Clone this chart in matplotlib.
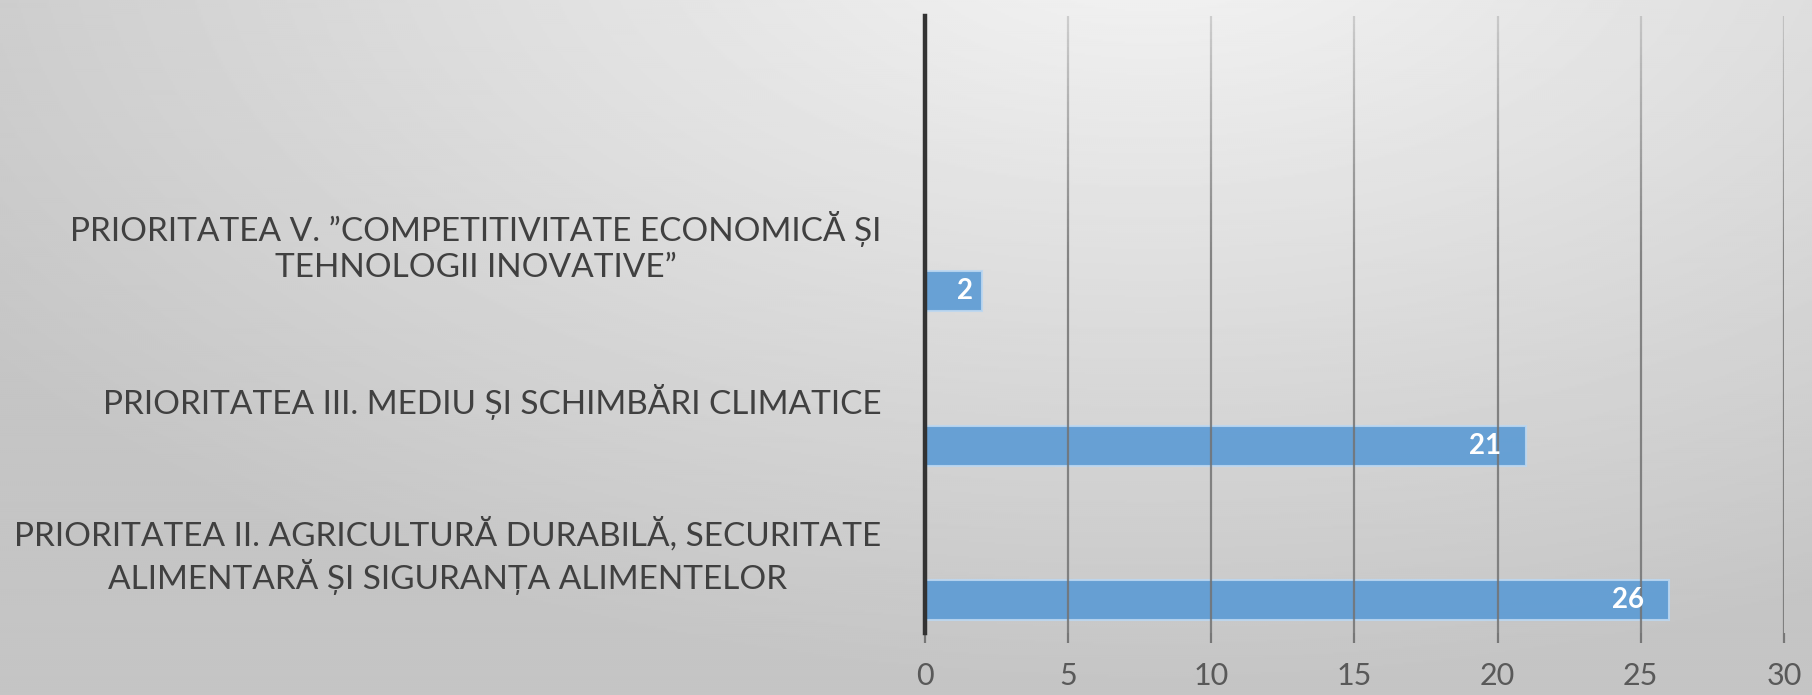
import numpy as np
import matplotlib
matplotlib.use("Agg")
import matplotlib.pyplot as plt
from matplotlib.collections import LineCollection

# data
categories = [
    "PRIORITATEA II. AGRICULTURĂ DURABILĂ, SECURITATE\nALIMENTARĂ ȘI SIGURANȚA ALIMENTELOR",
    "PRIORITATEA III. MEDIU ȘI SCHIMBĂRI CLIMATICE",
    "PRIORITATEA V. ”COMPETITIVITATE ECONOMICĂ ȘI\nTEHNOLOGII INOVATIVE”",
]
values = [26, 21, 2]
xticks = [0, 5, 10, 15, 20, 25, 30]

W, H = 1812, 695
fig = plt.figure(figsize=(W / 100, H / 100), dpi=100)

# radial grey background, lighter near the top middle
bg = fig.add_axes([0, 0, 1, 1], zorder=-10)
yy, xx = np.mgrid[0:H:2, 0:W:2]
d = np.sqrt(((xx - 1150) / W) ** 2 + ((yy + 80) / (H * 1.4)) ** 2)
shade = np.clip(0.96 - 0.24 * d, 0.77, 0.96)
bg.imshow(shade, cmap="gray", vmin=0, vmax=1, extent=[0, 1, 0, 1],
          aspect="auto", interpolation="bilinear")
bg.set_axis_off()

left, right = 924.5 / W, 1784 / W
bottom, top = 1 - 633 / H, 1 - 16 / H
ax = fig.add_axes([left, bottom, right - left, top - bottom])
ax.patch.set_alpha(0)

pos = np.arange(len(categories))
off = 0.285
bh = 0.26
ax.barh(pos - off, values, height=bh, color="#5b9bd5", alpha=0.9,
        edgecolor="#bcd7f0", linewidth=1.5, zorder=2)

ax.set_xlim(0, 30)
ax.set_ylim(-0.5, 3.5)

# gridlines fading towards the top
segs, cols = [], []
ys = np.linspace(-0.5, 3.5, 80)
for t in xticks[1:]:
    for a, b in zip(ys[:-1], ys[1:]):
        segs.append([(t, a), (t, b)])
        frac = (a + 0.5) / 4.0
        alpha = 0.85 if frac < 0.6 else 0.85 - (frac - 0.6) / 0.4 * 0.6
        cols.append((0.45, 0.45, 0.45, alpha))
ax.add_collection(LineCollection(segs, colors=cols, linewidths=1.6, zorder=3))
ax.axvline(0, color="#333333", lw=3.2, zorder=4, clip_on=False)

for s in ax.spines.values():
    s.set_visible(False)

ax.set_xticks(xticks)
ax.set_xticklabels([str(t) for t in xticks], fontsize=22, color="#595959",
                   family="Lato")
ax.tick_params(axis="x", length=7, width=1.6, color="#777777", pad=14)
ax.set_yticks([])

for p, lab in zip(pos, categories):
    ax.text(-1.5, p, lab, ha="right", va="center", multialignment="center",
            fontsize=24, color="#404040", family="Lato",
            transform=ax.transData, linespacing=1.25)

for p, v in zip(pos, values):
    ax.annotate(str(v), (v, p - off), xytext=(-max(6, min(18, v * 3)), 0),
                textcoords="offset points",
                ha="right", va="center", fontsize=20, fontweight="bold",
                color="white", family="Lato", zorder=5)

fig.savefig("out.png", dpi=100)
